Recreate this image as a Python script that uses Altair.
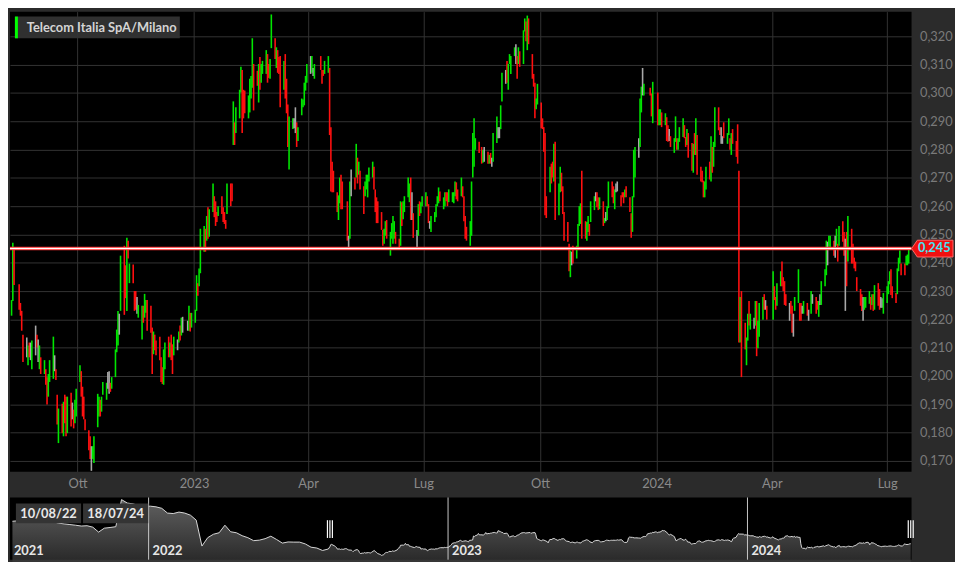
import altair as alt
import pandas as pd

TITLE = "Telecom Italia SpA/Milano"
START_LABEL = "10/08/22"
END_LABEL = "18/07/24"
LAST_PRICE = 0.245
FIRST_DAY = "2022-08-10"
HOLIDAYS = ["2022-08-15", "2022-12-26", "2023-04-07", "2023-04-10", "2023-05-01",
            "2023-08-15", "2023-12-25", "2023-12-26", "2024-01-01", "2024-03-29",
            "2024-04-01", "2024-05-01"]

# daily high / low in units of 0.0001 EUR, one per trading day
HIGH = [
    2268, 2471, 2446, 2324, 2258, 2230, 2146, 2136, 2108, 2118,
    2118, 2125, 2178, 2146, 2129, 2108, 2066, 2056, 2024, 1996,
    2007, 2056, 2139, 2073, 2024, 1934, 1885, 1902, 1909, 1934,
    1927, 1927, 1941, 1906, 1881, 1916, 1955, 2038, 2017, 1962,
    1927, 1847, 1808, 1787, 1752, 1752, 1787, 1937, 1927, 1916,
    1927, 1979, 1976, 2014, 2017, 1976, 1996, 2094, 2164, 2230,
    2220, 2425, 2460, 2391, 2488, 2478, 2397, 2394, 2300, 2300,
    2279, 2251, 2248, 2248, 2290, 2268, 2268, 2248, 2171, 2157,
    2146, 2125, 2139, 2066, 2031, 2094, 2118, 2139, 2118, 2146,
    2112, 2139, 2129, 2157, 2178, 2206, 2209, 2195, 2248, 2223,
    2223, 2234, 2356, 2328, 2380, 2520, 2530, 2520, 2565, 2596,
    2589, 2680, 2635, 2617, 2579, 2600, 2635, 2596, 2579, 2551,
    2680, 2680, 2680, 2970, 2896, 2949, 3011, 3092, 3081, 3011,
    3008, 2991, 3050, 3060, 3193, 3102, 3078, 3102, 3127, 3102,
    3113, 3151, 3137, 3102, 3120, 3277, 3193, 3161, 3151, 3127,
    3130, 3113, 3137, 3050, 2959, 2917, 2910, 2910, 2949, 2896,
    2879, 2980, 2977, 3036, 3060, 3102, 3130, 3130, 3088, 3102,
    3130, 3081, 3081, 3113, 3130, 3088, 2879, 2757, 2725, 2649,
    2638, 2701, 2711, 2687, 2617, 2495, 2687, 2729, 2701, 2820,
    2771, 2757, 2725, 2670, 2687, 2711, 2711, 2736, 2757, 2739,
    2659, 2631, 2617, 2579, 2516, 2520, 2547, 2551, 2509, 2540,
    2565, 2547, 2509, 2485, 2617, 2614, 2617, 2635, 2701, 2680,
    2701, 2649, 2575, 2516, 2607, 2617, 2614, 2635, 2649, 2635,
    2607, 2547, 2565, 2579, 2607, 2635, 2666, 2652, 2631, 2649,
    2649, 2649, 2659, 2649, 2649, 2687, 2684, 2659, 2701, 2670,
    2635, 2565, 2527, 2547, 2687, 2858, 2910, 2840, 2827, 2809,
    2799, 2809, 2792, 2781, 2788, 2771, 2858, 2917, 2879, 2879,
    2956, 3071, 3081, 3113, 3102, 3137, 3130, 3161, 3172, 3130,
    3161, 3147, 3221, 3263, 3252, 3273, 3263, 3137, 3067, 3036,
    2980, 3032, 2966, 2910, 2879, 2858, 2635, 2739, 2750, 2757,
    2820, 2827, 2680, 2739, 2718, 2670, 2579, 2544, 2467, 2443,
    2439, 2460, 2460, 2537, 2600, 2610, 2725, 2547, 2544, 2565,
    2537, 2617, 2635, 2649, 2649, 2631, 2631, 2617, 2558, 2579,
    2600, 2687, 2687, 2670, 2659, 2680, 2687, 2638, 2649, 2649,
    2659, 2670, 2631, 2575, 2635, 2799, 2809, 2840, 2980, 3022,
    3088, 3032, 3018, 2998, 3039, 3001, 2942, 2942, 2931, 2928,
    2914, 2886, 2872, 2847, 2840, 2917, 2840, 2840, 2879, 2910,
    2886, 2844, 2872, 2858, 2823, 2820, 2858, 2910, 2851, 2739,
    2725, 2690, 2687, 2739, 2757, 2847, 2809, 2827, 2949, 2949,
    2879, 2879, 2847, 2896, 2858, 2910, 2840, 2858, 2872, 2830,
    2889, 2725, 2279, 2300, 2188, 2136, 2220, 2265, 2220, 2206,
    2265, 2265, 2195, 2258, 2279, 2289, 2268, 2248, 2370, 2317,
    2279, 2328, 2370, 2404, 2349, 2335, 2289, 2258, 2265, 2248,
    2220, 2279, 2377, 2258, 2258, 2248, 2265, 2258, 2234, 2300,
    2289, 2279, 2265, 2265, 2289, 2335, 2377, 2478, 2474, 2495,
    2495, 2478, 2495, 2520, 2467, 2530, 2547, 2509, 2485, 2509,
    2565, 2520, 2467, 2418, 2404, 2349, 2307, 2289, 2279, 2279,
    2279, 2300, 2279, 2289, 2289, 2321, 2328, 2307, 2279, 2275,
    2293, 2317, 2335, 2370, 2377, 2317, 2293, 2380, 2418, 2443,
    2397, 2397, 2425, 2429, 2450,
]
LOW = [
    2213, 2265, 2321, 2234, 2213, 2160, 2049, 2066, 2038, 2066,
    2056, 2024, 2073, 2101, 2049, 2024, 2007, 2007, 1969, 1899,
    1927, 1979, 1990, 2017, 1986, 1829, 1763, 1798, 1787, 1833,
    1787, 1798, 1822, 1847, 1815, 1833, 1857, 1979, 1927, 1857,
    1847, 1808, 1738, 1707, 1665, 1707, 1693, 1819, 1857, 1857,
    1874, 1934, 1916, 1955, 1937, 1944, 1955, 1996, 2084, 2108,
    2146, 2230, 2216, 2275, 2230, 2415, 2328, 2328, 2230, 2234,
    2220, 2206, 2129, 2188, 2206, 2223, 2160, 2153, 2007, 2077,
    2091, 2073, 2056, 1979, 1972, 1969, 2024, 2066, 2066, 2056,
    2007, 2073, 2091, 2118, 2125, 2143, 2153, 2160, 2160, 2157,
    2171, 2188, 2230, 2283, 2317, 2363, 2439, 2439, 2478, 2485,
    2492, 2579, 2561, 2530, 2544, 2565, 2572, 2544, 2537, 2520,
    2572, 2600, 2617, 2816, 2816, 2858, 2910, 3001, 2858, 2910,
    2928, 2910, 2931, 2980, 3018, 2938, 3025, 2966, 3011, 3036,
    3067, 3067, 3036, 3053, 3050, 3158, 3120, 3088, 3071, 3067,
    2949, 3011, 2980, 2928, 2809, 2729, 2872, 2875, 2858, 2809,
    2830, 2921, 2949, 2956, 3008, 3036, 3067, 3071, 3060, 3050,
    3081, 3032, 3060, 3067, 3071, 2851, 2652, 2649, 2649, 2579,
    2551, 2610, 2589, 2589, 2478, 2450, 2485, 2635, 2659, 2701,
    2680, 2711, 2659, 2572, 2635, 2659, 2631, 2687, 2701, 2659,
    2579, 2540, 2540, 2516, 2460, 2467, 2495, 2485, 2425, 2485,
    2467, 2485, 2467, 2450, 2460, 2530, 2554, 2579, 2631, 2614,
    2551, 2551, 2488, 2450, 2495, 2565, 2575, 2600, 2600, 2600,
    2540, 2520, 2509, 2544, 2561, 2600, 2610, 2617, 2589, 2600,
    2617, 2600, 2614, 2614, 2610, 2635, 2624, 2617, 2635, 2631,
    2547, 2485, 2478, 2460, 2495, 2701, 2739, 2799, 2788, 2750,
    2753, 2757, 2750, 2750, 2750, 2739, 2757, 2823, 2840, 2840,
    2872, 2970, 3032, 3036, 3011, 3102, 3067, 3130, 3102, 3050,
    3102, 3092, 3102, 3217, 3182, 3151, 3172, 3050, 3022, 2910,
    2942, 2959, 2875, 2872, 2792, 2568, 2558, 2649, 2680, 2701,
    2687, 2551, 2568, 2649, 2652, 2572, 2478, 2474, 2370, 2349,
    2391, 2397, 2415, 2446, 2530, 2537, 2485, 2485, 2478, 2509,
    2495, 2544, 2586, 2617, 2596, 2586, 2589, 2530, 2540, 2547,
    2551, 2593, 2631, 2610, 2589, 2649, 2652, 2600, 2631, 2610,
    2631, 2631, 2579, 2488, 2509, 2631, 2701, 2771, 2809, 2931,
    2991, 2991, 2991, 2917, 2893, 2886, 2886, 2886, 2879, 2886,
    2830, 2827, 2830, 2809, 2788, 2827, 2799, 2799, 2827, 2844,
    2840, 2809, 2816, 2771, 2725, 2718, 2781, 2781, 2711, 2687,
    2684, 2631, 2631, 2659, 2694, 2687, 2718, 2739, 2809, 2868,
    2851, 2820, 2820, 2840, 2820, 2851, 2799, 2781, 2820, 2774,
    2750, 2118, 2118, 1996, 2094, 2038, 2125, 2178, 2164, 2167,
    2178, 2070, 2098, 2139, 2199, 2234, 2234, 2199, 2199, 2268,
    2234, 2248, 2317, 2317, 2300, 2251, 2248, 2195, 2220, 2153,
    2139, 2230, 2258, 2195, 2195, 2220, 2220, 2213, 2195, 2220,
    2255, 2220, 2234, 2209, 2251, 2251, 2317, 2356, 2391, 2457,
    2450, 2425, 2418, 2460, 2404, 2460, 2474, 2425, 2230, 2317,
    2404, 2397, 2397, 2380, 2370, 2300, 2248, 2230, 2195, 2234,
    2241, 2255, 2234, 2251, 2230, 2234, 2248, 2234, 2241, 2241,
    2220, 2258, 2289, 2324, 2286, 2275, 2258, 2289, 2370, 2397,
    2356, 2356, 2391, 2391, 2397,
]
# G = up, R = down, N = unchanged
DIR = (
    "GGRRRRRNGR" "NGNRNGRGRR" "GGGNRRGRGR" "RGRNRGGGRR" "RRRRNGGGGR"
    "GGGNNRGGGG" "NGRRGRGRRR" "NGGRGGRRRG" "RRRRRGGRGR" "RGNGRGNNGR"
    "GGGRGGGRGR" "GGRRRGRRRR" "GRRGRGGGRR" "RGGGGRRGRG" "GGRRGGRGRR"
    "RGRRRGGNNR" "GGGGGGNGNG" "RRRGGRRRRR" "GGRRRNGNRG" "RGRRGGGGGR"
    "RRRRRGGRGG" "GGRRGRGGGG" "RNRNGRGGGR" "RNGGGGGRGG" "RRGGGGRRGR"
    "RRRGGGGGRR" "GNRGRNGGNN" "GGNRGGGGNR" "GRGGRGRRRR" "GGRRRRRGRR"
    "GRGGRRRRRG" "NRGGGGRRGG" "RGGNRRGRGN" "GGRRGNNRRR" "GRRRGGGNGG"
    "NGRRGRGGRG" "RRNRGGRGGG" "RRGRRGRGRR" "RRGGRGRGGR" "RNNRGGRGRR"
    "RRGRRGGRGN" "GRGGGRNRGR" "RGGRRRRNRR" "NGGRRNGRNG" "NRRGNGGGNG"
    "GRNGRGRRNR" "GRRRRRRRNG" "GGRGRGRRNN" "GGGGRRRGGG" "RRGGG"
)

# navigator history before the main window: weekly closes (units of 0.001 EUR)
NAV_PRE_START = "2021-07-19"
NAV_PRE = [
    379, 382, 379, 383, 382, 379, 382, 377, 368, 363,
    359, 355, 350, 352, 343, 313, 337, 341, 346, 511,
    490, 485, 475, 470, 471, 467, 458, 429, 426, 435,
    429, 416, 386, 228, 279, 300, 309, 355, 315, 309,
    291, 279, 261, 264, 273, 288, 268, 246, 253, 252,
    252, 241, 221, 216, 201, 210,
]

Y_TICKS = [0.17, 0.18, 0.19, 0.20, 0.21, 0.22, 0.23, 0.24, 0.25, 0.26, 0.27,
           0.28, 0.29, 0.30, 0.31, 0.32]
X_TICKS = [(2022, 10), (2023, 1), (2023, 4), (2023, 7), (2023, 10),
           (2024, 1), (2024, 4), (2024, 7)]
YEAR_STARTS = [2022, 2023, 2024]
NAV_YEAR_LABELS = ["2021", "2022", "2023", "2024"]
IT_MONTHS = ["Gen", "Feb", "Mar", "Apr", "Mag", "Giu", "Lug", "Ago", "Set", "Ott", "Nov", "Dic"]

# ---------------------------------------------------------------- tables
n = len(HIGH)
dates = pd.bdate_range(start=FIRST_DAY, periods=n, freq="C", holidays=HOLIDAYS)
candles = pd.DataFrame({
    "date": dates,
    "hi": [h / 10000 for h in HIGH],
    "lo": [l / 10000 for l in LOW],
    "dir": list(DIR[:n]),
})
candles["mid"] = (candles["hi"] + candles["lo"]) / 2

pre = pd.DataFrame({
    "date": pd.date_range(NAV_PRE_START, periods=len(NAV_PRE), freq="7D"),
    "v": [p / 1000 for p in NAV_PRE],
})
nav = pd.concat([pre, candles[["date", "mid"]].rename(columns={"mid": "v"})], ignore_index=True)

one = pd.DataFrame({"price": [LAST_PRICE],
                    "label": [f"{LAST_PRICE:.3f}".replace(".", ",")]})

# ---------------------------------------------------------------- main chart
W, H = 913, 466
FONT = "Lato"
GRID = "#333333"

x_scale = alt.Scale(domain=[alt.DateTime(year=2022, month=8, date=8, hours=18),
                            alt.DateTime(year=2024, month=7, date=20, hours=6)], nice=False)
y_scale = alt.Scale(domain=[0.16616, 0.3287], nice=False, zero=False)

month_arr = "[" + ",".join(f"'{m}'" for m in IT_MONTHS) + "]"
x_axis = alt.Axis(
    values=[alt.DateTime(year=y, month=m, date=1) for y, m in X_TICKS],
    labelExpr=f"month(datum.value) == 0 ? timeFormat(datum.value, '%Y') : {month_arr}[month(datum.value)]",
    grid=True, gridColor=GRID, gridWidth=1, ticks=False, domain=False,
    labelColor="#8a8a8a", labelFont=FONT, labelFontSize=13, labelPadding=12,
    labelBaseline="middle", labelFlush=False, title=None, minExtent=25, maxExtent=25,
)
y_axis = alt.Axis(
    orient="right", values=Y_TICKS,
    labelExpr="replace(format(datum.value, '.3f'), '.', ',')",
    grid=True, gridColor=GRID, gridWidth=1, ticks=False, domain=False,
    labelColor="#7a7a7a", labelFont=FONT, labelFontSize=13, labelPadding=8,
    title=None, minExtent=42, maxExtent=42,
)

candle_layer = alt.Chart(candles).mark_rule(strokeWidth=1.6).encode(
    x=alt.X("date:T", scale=x_scale, axis=x_axis),
    y=alt.Y("lo:Q", scale=y_scale, axis=y_axis),
    y2="hi:Q",
    color=alt.Color("dir:N", scale=alt.Scale(domain=["G", "R", "N"],
                                             range=["#00e600", "#ff1010", "#a8a8a8"]),
                    legend=None),
)

price_red = alt.Chart(one).mark_rule(color="#ff2a2a", strokeWidth=3.5).encode(
    y=alt.Y("price:Q", scale=y_scale, axis=y_axis))
price_white = alt.Chart(one).mark_rule(color="#ffffff", strokeWidth=1.5).encode(
    y=alt.Y("price:Q", scale=y_scale, axis=y_axis))

tag_path = "M -1 0 L -0.72 -0.405 L 1 -0.405 L 1 0.405 L -0.72 0.405 Z"
price_tag = alt.Chart(one).mark_point(
    shape=tag_path, size=42 * 42, filled=True, fill="#f01010", stroke="#ff6a6a",
    strokeWidth=1, opacity=1,
).encode(x=alt.value(W + 21), y=alt.Y("price:Q", scale=y_scale, axis=y_axis))
price_text = alt.Chart(one).mark_text(
    font=FONT, fontSize=13, fontWeight="bold", color="#45e3f2", align="center", baseline="middle",
    dy=-1,
).encode(x=alt.value(W + 23), y=alt.Y("price:Q", scale=y_scale, axis=y_axis), text="label:N")

title_box = alt.Chart(one).mark_rect(fill="#333333", opacity=0.95).encode(
    x=alt.value(5), x2=alt.value(172), y=alt.value(5), y2=alt.value(27))
title_bar = alt.Chart(one).mark_rect(fill="#00ff00").encode(
    x=alt.value(5), x2=alt.value(8), y=alt.value(5), y2=alt.value(27))
title_text = alt.Chart(one).mark_text(
    font=FONT, fontSize=13, fontWeight="bold", color="#d4d4d4", align="left", baseline="middle",
).encode(x=alt.value(17), y=alt.value(16.5), text=alt.value(TITLE))

main = alt.layer(candle_layer, price_red, price_white, price_tag, price_text,
                 title_box, title_bar, title_text).properties(width=W, height=H)

# ---------------------------------------------------------------- navigator
NH = 63
nx = alt.Scale(domain=[alt.DateTime(year=2021, month=7, date=16),
                       alt.DateTime(year=2024, month=7, date=19)], nice=False)
ny = alt.Scale(domain=[0.145, 0.524], nice=False, zero=False)

nav_area = alt.Chart(nav).mark_area(
    color=alt.Gradient(gradient="linear",
                       stops=[alt.GradientStop(color="#8a8a8a", offset=0),
                              alt.GradientStop(color="#1e1e1e", offset=1)],
                       x1=0, x2=0, y1=0, y2=1),
    line={"color": "#d8d8d8", "strokeWidth": 1},
).encode(x=alt.X("date:T", scale=nx, axis=None),
         y=alt.Y("v:Q", scale=ny, axis=None), y2=alt.value(NH))

years = pd.DataFrame({"d": [pd.Timestamp(f"{y}-01-01") for y in YEAR_STARTS]})
nav_sep = alt.Chart(years).mark_rule(color="#c8c8c8", strokeWidth=1).encode(
    x=alt.X("d:T", scale=nx, axis=None))

year_lab = pd.DataFrame({
    "d": [pd.Timestamp("2021-07-16")] + [pd.Timestamp(f"{y}-01-01") for y in YEAR_STARTS],
    "t": NAV_YEAR_LABELS,
})
nav_years = alt.Chart(year_lab).mark_text(
    font=FONT, fontSize=13, fontWeight="bold", color="#e6e6e6", align="left",
    baseline="alphabetic", dx=4,
).encode(x=alt.X("d:T", scale=nx, axis=None), y=alt.value(NH - 5), text="t:N")

handles = pd.DataFrame({"d": [pd.Timestamp(FIRST_DAY), dates[-1]]})
handle_layers = [
    alt.Chart(handles).mark_rule(color="#ffffff", strokeWidth=1.2, xOffset=off).encode(
        x=alt.X("d:T", scale=nx, axis=None), y=alt.value(23), y2=alt.value(41))
    for off in (-2.5, 0, 2.5)
]

box_df = pd.DataFrame({"x": [6, 74], "x2": [72, 140], "t": [START_LABEL, END_LABEL]})
date_boxes = alt.Chart(box_df).mark_rect(fill="#343434").encode(
    x=alt.X("x:Q", scale=None), x2="x2:Q", y=alt.value(6), y2=alt.value(26))
date_text = alt.Chart(box_df).mark_text(
    font=FONT, fontSize=13, fontWeight="bold", color="#e8e8e8", align="center", baseline="middle",
).encode(x=alt.X("xc:Q", scale=None), y=alt.value(16.5), text="t:N").transform_calculate(
    xc="(datum.x + datum.x2) / 2")

navigator = alt.layer(nav_area, nav_sep, nav_years, *handle_layers, date_boxes, date_text
                      ).properties(width=W, height=NH)

chart = alt.vconcat(main, navigator, spacing=0).properties(
    background="#2b2b2b", padding=0
).configure_view(strokeWidth=0, fill="#000000").configure_concat(spacing=0)

chart.save("out.html", embed_options={"renderer": "svg", "actions": False})
